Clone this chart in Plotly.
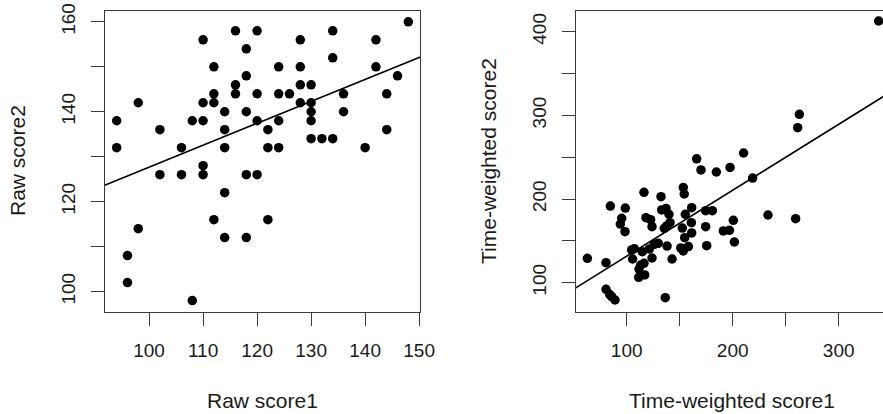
import numpy as np
import plotly.graph_objects as go

# ---------------- data ----------------
raw_score1 = [94, 94, 98, 102, 106, 108, 110, 110, 110, 112, 112, 112, 114, 114, 114,
              116, 116, 116, 118, 118, 118, 120, 120, 120, 122, 122, 124, 124, 124, 124,
              126, 128, 128, 128, 128, 130, 130, 130, 130, 130, 132, 134, 134, 134, 136,
              136, 140, 142, 142, 144, 144, 146, 148,
              102, 106, 110, 110, 114, 118, 120, 112, 122, 98, 114, 118, 96, 96, 108]
raw_score2 = [138, 132, 142, 136, 132, 138, 156, 142, 138, 150, 144, 142, 140, 136, 132,
              158, 146, 144, 154, 148, 140, 158, 144, 138, 136, 132, 150, 144, 138, 132,
              144, 156, 150, 146, 142, 146, 142, 140, 138, 134, 134, 158, 152, 134, 144,
              140, 132, 156, 150, 144, 136, 148, 160,
              126, 126, 128, 126, 122, 126, 126, 116, 116, 114, 112, 112, 108, 102, 98]

tw_score1 = [337.7, 262.9, 261.3, 210.3, 166.0, 170.1, 184.6, 197.5, 218.8, 116.3,
             132.4, 153.4, 154.3, 84.6, 98.7, 95.3, 94.0, 98.4, 118.2, 122.6,
             123.9, 133.0, 137.1, 139.9, 140.9, 135.5, 137.7, 155.3, 161.3, 161.0,
             152.5, 161.3, 154.7, 174.5, 180.8, 174.5, 200.6, 233.3, 259.4, 191.2,
             196.9, 201.6, 175.5, 158.2, 151.0, 153.4, 138.1, 142.8, 123.9, 126.1,
             121.4, 114.7, 107.1, 104.7, 105.6, 116.3, 113.2, 111.6, 111.3, 117.0,
             62.9, 80.5, 80.5, 84.0, 89.0, 136.4, 85.8, 129.8]
tw_score2 = [412.8, 301.2, 285.3, 255.0, 248.0, 234.7, 232.3, 237.8, 225.1, 208.0,
             202.8, 213.9, 206.0, 191.6, 189.2, 176.9, 170.1, 161.0, 177.7, 175.3,
             166.9, 186.9, 188.8, 181.7, 171.7, 165.0, 167.8, 181.7, 189.6, 171.7,
             165.3, 159.4, 153.8, 186.1, 186.1, 166.9, 174.5, 180.9, 176.5, 161.8,
             162.6, 148.6, 144.2, 143.1, 141.5, 137.9, 143.8, 128.3, 129.5, 145.8,
             140.3, 137.1, 140.6, 139.1, 128.3, 123.1, 121.1, 116.3, 106.4, 109.2,
             129.1, 123.9, 92.0, 86.0, 79.3, 82.1, 83.3, 147.1]

raw_x_ticks = [100, 110, 120, 130, 140, 150]
raw_x_labels = ["100", "110", "120", "130", "140", "150"]
raw_y_ticks = [100, 110, 120, 130, 140, 150, 160]
raw_y_labels = ["100", "", "120", "", "140", "", "160"]
tw_x_ticks = [100, 150, 200, 250, 300, 350]
tw_x_labels = ["100", "", "200", "", "300", ""]
tw_y_ticks = [100, 150, 200, 250, 300, 350, 400]
tw_y_labels = ["100", "", "200", "", "300", "", "400"]

x_title_1 = "Raw score1"
y_title_1 = "Raw score2"
x_title_2 = "Time-weighted score1"
y_title_2 = "Time-weighted score2"

# ---------------- figure ----------------
W, H = 883, 414
FONT = "Liberation Sans, Arial, sans-serif"
BOX = "#3a3a3a"

fig = go.Figure()


def add_panel(x, y, xa, ya):
    x = np.asarray(x, float)
    y = np.asarray(y, float)
    fig.add_trace(go.Scatter(x=x, y=y, mode="markers", xaxis=xa, yaxis=ya,
                             marker=dict(color="black", size=9.5, line=dict(width=0)),
                             showlegend=False, hoverinfo="skip"))
    slope, intercept = np.polyfit(x, y, 1)
    xl = np.array([-1000.0, 2000.0])
    fig.add_trace(go.Scatter(x=xl, y=intercept + slope * xl, mode="lines",
                             xaxis=xa, yaxis=ya,
                             line=dict(color="black", width=1.6),
                             showlegend=False, hoverinfo="skip"))


add_panel(raw_score1, raw_score2, "x", "y")
add_panel(tw_score1, tw_score2, "x2", "y2")

ydom = [102.3 / H, 403.3 / H]
tickfont = dict(family=FONT, size=19, color="#1a1a1a")
common = dict(showgrid=False, zeroline=False, showline=True, linecolor=BOX, linewidth=1,
              ticks="outside", ticklen=13, tickwidth=1, tickcolor=BOX,
              tickfont=tickfont, tickmode="array", automargin=False)

fig.update_layout(
    width=W, height=H, autosize=False, margin=dict(l=0, r=0, t=0, b=0, autoexpand=False),
    paper_bgcolor="white", plot_bgcolor="white", showlegend=False,
    xaxis=dict(domain=[105 / W, 420 / W], range=[91.84, 150.16], mirror=True,
               tickvals=raw_x_ticks, ticktext=raw_x_labels, anchor="y",
               ticklabelstandoff=8, **common),
    yaxis=dict(domain=ydom, range=[95.52, 162.48], mirror=True,
               tickvals=raw_y_ticks, ticktext=raw_y_labels, anchor="x",
               tickangle=-90, ticklabelstandoff=8, **common),
    xaxis2=dict(domain=[575.7 / W, 1.0], range=[51.9, 341.8], mirror=True,
                tickvals=tw_x_ticks, ticktext=tw_x_labels, anchor="y2",
                ticklabelstandoff=8, **common),
    yaxis2=dict(domain=ydom, range=[65.3, 425.1], mirror=False,
                tickvals=tw_y_ticks, ticktext=tw_y_labels, anchor="x2",
                tickangle=-90, ticklabelstandoff=8, **common),
)

title_font = dict(family=FONT, size=21, color="#1a1a1a")
fig.add_annotation(text=x_title_1, xref="paper", yref="paper", x=262.5 / W, y=1 - 400 / H,
                   showarrow=False, xanchor="center", yanchor="middle", font=title_font)
fig.add_annotation(text=x_title_2, xref="paper", yref="paper", x=732 / W, y=1 - 400 / H,
                   showarrow=False, xanchor="center", yanchor="middle", font=title_font)
fig.add_annotation(text=y_title_1, xref="paper", yref="paper", x=18 / W, y=1 - 161 / H,
                   showarrow=False, xanchor="center", yanchor="middle", textangle=-90,
                   font=title_font)
fig.add_annotation(text=y_title_2, xref="paper", yref="paper", x=489 / W, y=1 - 161 / H,
                   showarrow=False, xanchor="center", yanchor="middle", textangle=-90,
                   font=title_font)

post = ("document.documentElement.style.margin='0';"
        "document.body.style.margin='0';document.body.style.padding='0';"
        "document.body.style.overflow='hidden';"
        "var gd=document.getElementById('{plot_id}');"
        "Plotly.relayout(gd,{width:883,height:414});")

fig.write_html("out.html",
               config={"responsive": False, "displayModeBar": False},
               post_script=post)
